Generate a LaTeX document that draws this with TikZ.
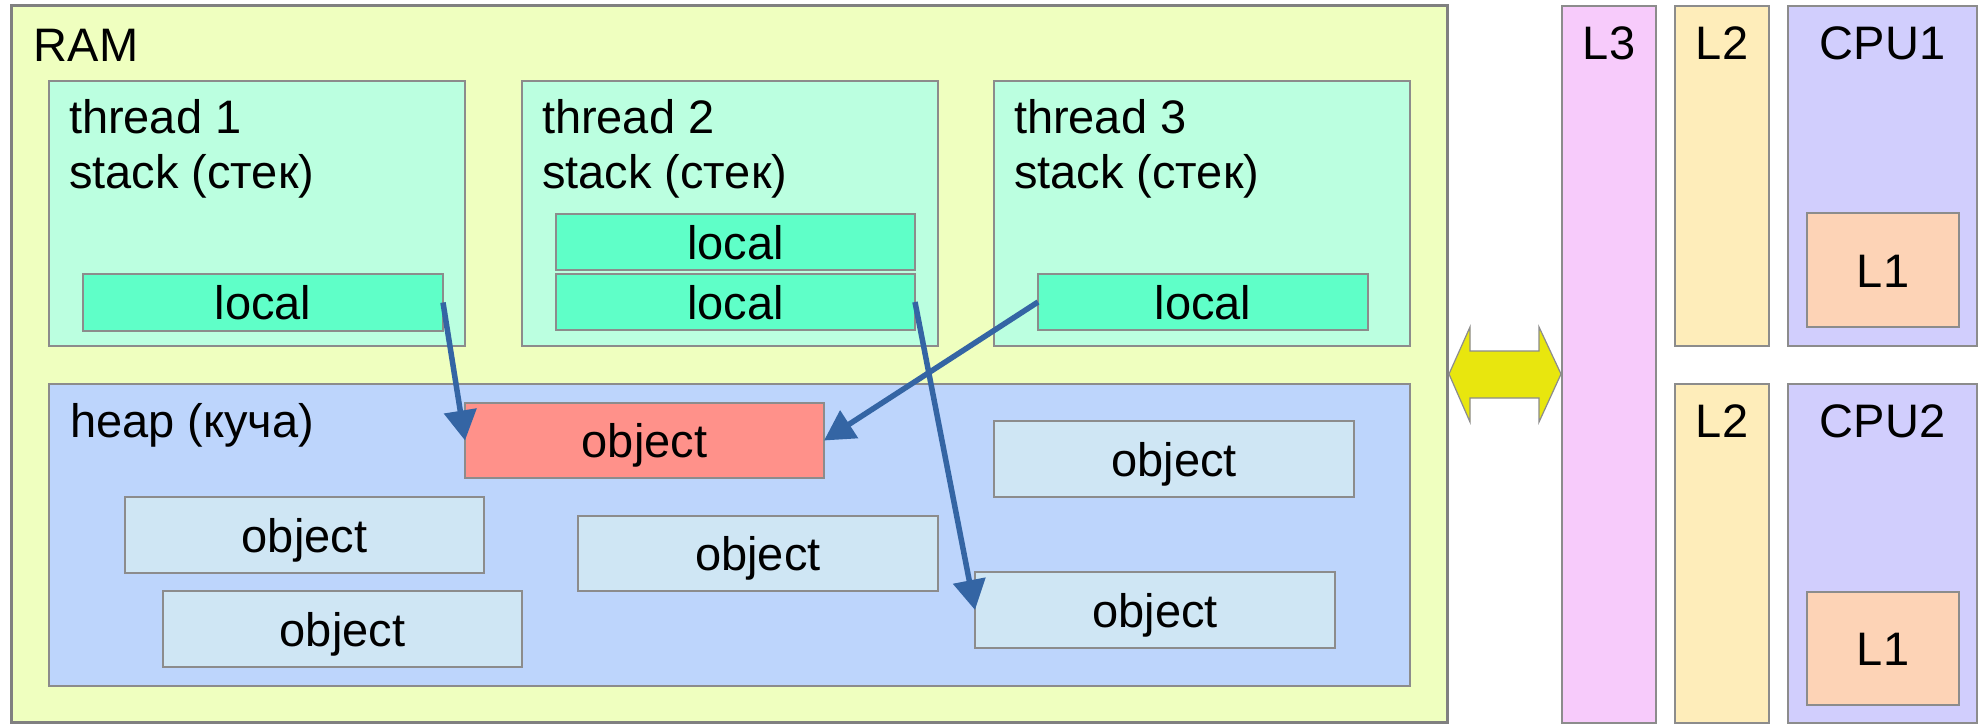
\documentclass[tikz,border=0pt]{standalone}
\usepackage{fontspec}
\setmainfont{Liberation Sans}
\usetikzlibrary{arrows.meta}
\definecolor{ramfill}{HTML}{EFFFBF}
\definecolor{threadfill}{HTML}{BBFFE0}
\definecolor{localfill}{HTML}{5FFFC8}
\definecolor{heapfill}{HTML}{BDD5FC}
\definecolor{objfill}{HTML}{CFE6F4}
\definecolor{redfill}{HTML}{FF918A}
\definecolor{lthreefill}{HTML}{F7CBFB}
\definecolor{ltwofill}{HTML}{FEEDBA}
\definecolor{cpufill}{HTML}{D1CEFD}
\definecolor{lonefill}{HTML}{FDD3B6}
\definecolor{boxline}{HTML}{8C8C8C}
\definecolor{ramline}{HTML}{808080}
\definecolor{arrowblue}{HTML}{3465A4}
\definecolor{busfill}{HTML}{E8E60E}
\begin{document}
\begin{tikzpicture}[x=1pt,y=-1pt,
  box/.style={draw=boxline, line width=1.5pt, inner sep=0pt, outer sep=0pt,
    font=\fontsize{47}{55}\selectfont, text height=34pt, text depth=0pt},
  lbl/.style={inner sep=0pt, outer sep=0pt, font=\fontsize{47}{55}\selectfont, anchor=base west},
  lblc/.style={lbl, anchor=base},
  ref/.style={draw=arrowblue, line width=5.5pt, -{Triangle[length=30pt,width=32pt]}},
  bus/.style={fill=busfill, draw=boxline, line width=1.2pt},
]
\useasboundingbox (0,0) rectangle (1979,724);
\fill[white] (0,0) rectangle (1979,724);

% RAM
\node[box, draw=ramline, line width=3pt, fill=ramfill, minimum width=1435.5pt, minimum height=717pt] (ram) at (729.25,364) {};
\node[lbl] (ramlbl) at (34,61) {RAM};

% threads
\node[box, fill=threadfill, minimum width=416pt, minimum height=265pt] (th1) at (257,213.5) {};
\node[box, fill=threadfill, minimum width=416pt, minimum height=265pt] (th2) at (730,213.5) {};
\node[box, fill=threadfill, minimum width=416pt, minimum height=265pt] (th3) at (1202,213.5) {};
\node[lbl] (th1a) at (69,133) {thread 1};
\node[lbl] (th1b) at (69,188) {stack (стек)};
\node[lbl] (th2a) at (542,133) {thread 2};
\node[lbl] (th2b) at (542,188) {stack (стек)};
\node[lbl] (th3a) at (1014,133) {thread 3};
\node[lbl] (th3b) at (1014,188) {stack (стек)};

% locals
\node[box, fill=localfill, minimum width=360pt, minimum height=57pt] (loc1) at (263,302.5) {local};
\node[box, fill=localfill, minimum width=359pt, minimum height=56pt] (loc2a) at (735.5,242) {local};
\node[box, fill=localfill, minimum width=359pt, minimum height=56pt] (loc2b) at (735.5,302) {local};
\node[box, fill=localfill, minimum width=330pt, minimum height=56pt] (loc3) at (1203,302) {local};

% heap
\node[box, fill=heapfill, minimum width=1361pt, minimum height=302pt] (heap) at (729.5,535) {};
\node[lbl] (heaplbl) at (70,437) {heap (куча)};

% objects
\node[box, fill=redfill, minimum width=359pt, minimum height=75pt] (red) at (644.5,440.5) {object};
\node[box, fill=objfill, minimum width=359pt, minimum height=76pt] (objA) at (304.5,535) {object};
\node[box, fill=objfill, minimum width=359pt, minimum height=76pt] (objB) at (342.5,629) {object};
\node[box, fill=objfill, minimum width=360pt, minimum height=75pt] (objC) at (758,553.5) {object};
\node[box, fill=objfill, minimum width=360pt, minimum height=76pt] (objD) at (1174,459) {object};
\node[box, fill=objfill, minimum width=360pt, minimum height=76pt] (objE) at (1155,610) {object};

% references
\draw[ref] (loc1.east) -- (red.west);
\draw[ref] (loc3.west) -- (red.east);
\draw[ref] (loc2b.east) -- (objE.west);

% caches and CPUs
\node[box, fill=lthreefill, minimum width=94pt, minimum height=717pt] (l3) at (1609,364.5) {};
\node[box, fill=ltwofill, minimum width=94pt, minimum height=340pt] (l2a) at (1722,176) {};
\node[box, fill=cpufill, minimum width=189pt, minimum height=340pt] (cpu1) at (1882.5,176) {};
\node[box, fill=lonefill, minimum width=152pt, minimum height=114pt] (l1a) at (1883,270) {L1};
\node[box, fill=ltwofill, minimum width=94pt, minimum height=339pt] (l2b) at (1722,553.5) {};
\node[box, fill=cpufill, minimum width=189pt, minimum height=339pt] (cpu2) at (1882.5,553.5) {};
\node[box, fill=lonefill, minimum width=152pt, minimum height=113pt] (l1b) at (1883,648.5) {L1};
\node[lblc] (l3lbl) at (1609,59) {L3};
\node[lblc] (l2albl) at (1722,59) {L2};
\node[lblc] (cpu1lbl) at (1882.5,59) {CPU1};
\node[lblc] (l2blbl) at (1722,437) {L2};
\node[lblc] (cpu2lbl) at (1882.5,437) {CPU2};

% bus double arrow
\draw[bus] (1449,374) -- (1470,327) -- (1470,351) -- (1539,351) -- (1539,327)
  -- (1561,374) -- (1539,422) -- (1539,398) -- (1470,398) -- (1470,422) -- cycle;
\end{tikzpicture}
\end{document}
